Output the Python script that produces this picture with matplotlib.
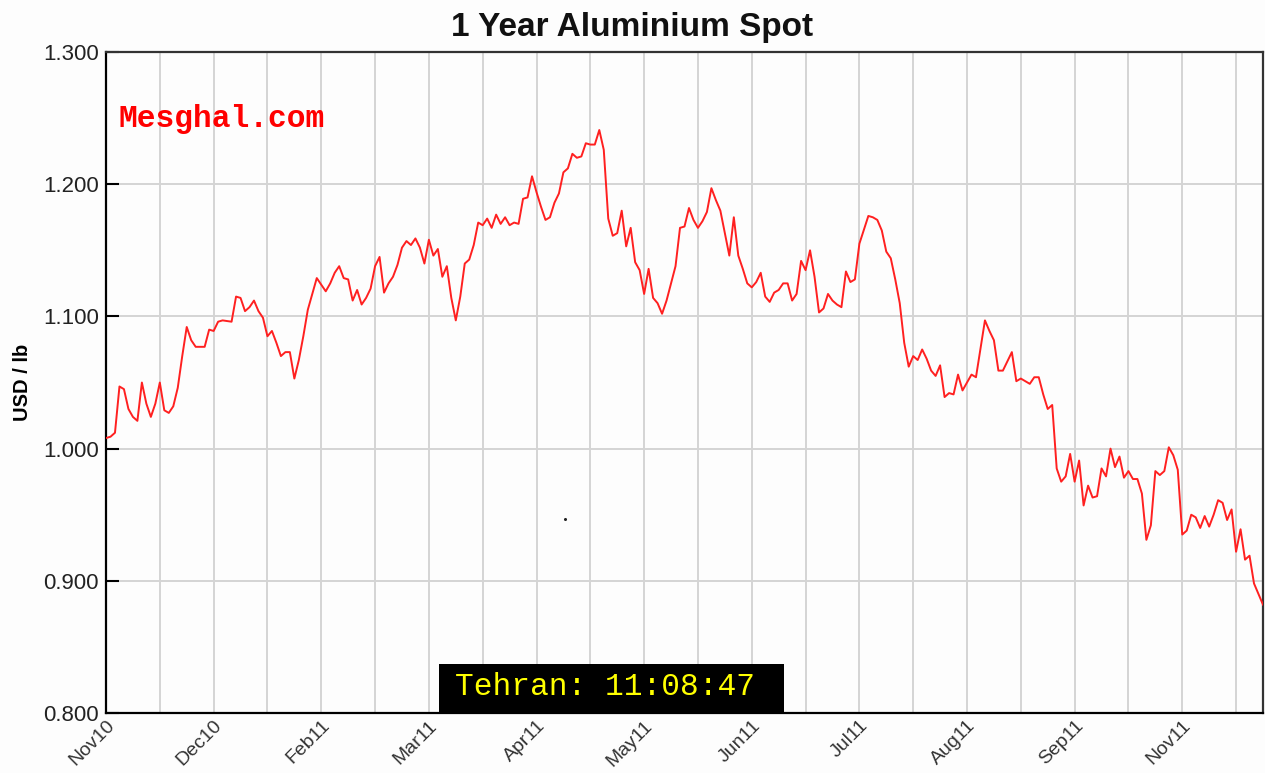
import matplotlib
matplotlib.use('Agg')
import matplotlib.pyplot as plt
from matplotlib.patches import Rectangle

# trading-day index and aluminium spot price (USD / lb)
day = [0, 1, 2, 3, 4, 5, 6, 7, 8, 9, 10, 11, 12, 13, 14, 15, 16, 17, 18, 19,
       20, 22, 23, 24, 25, 26, 28, 29, 30, 31, 32, 33, 34, 35, 36, 37, 38, 39,
       40, 41, 42, 43, 44, 45, 47, 48, 49, 50, 51, 52, 53, 54, 55, 56, 57, 58,
       59, 60, 61, 62, 63, 64, 65, 66, 67, 68, 69, 70, 71, 72, 73, 74, 75, 76,
       77, 78, 79, 80, 81, 82, 83, 84, 85, 86, 87, 88, 89, 90, 91, 92, 93, 94,
       95, 96, 97, 98, 99, 100, 101, 102, 103, 104, 105, 106, 107, 108, 109,
       110, 111, 112, 113, 114, 115, 116, 117, 118, 119, 120, 121, 122, 123,
       124, 125, 126, 127, 128, 129, 130, 131, 132, 133, 134, 135, 136, 137,
       138, 139, 140, 141, 142, 143, 144, 145, 146, 147, 148, 149, 150, 151,
       152, 153, 154, 155, 156, 157, 158, 159, 160, 161, 162, 163, 164, 165,
       166, 167, 168, 170, 171, 172, 173, 174, 175, 176, 177, 178, 179, 180,
       181, 182, 183, 184, 185, 186, 187, 188, 189, 190, 191, 192, 193, 194,
       196, 197, 198, 199, 200, 201, 202, 203, 204, 205, 206, 207, 208, 209,
       210, 211, 212, 213, 214, 215, 216, 217, 218, 219, 220, 221, 222, 223,
       224, 225, 226, 227, 228, 229, 230, 231, 232, 233, 234, 235, 236, 237,
       238, 239, 240, 241, 242, 243, 244, 245, 246, 247, 248, 249, 250, 251,
       252, 253, 254, 255, 256, 258]
price = [1.008, 1.009, 1.012, 1.047, 1.045, 1.030, 1.024, 1.021, 1.050, 1.034,
         1.024, 1.034, 1.050, 1.029, 1.027, 1.032, 1.046, 1.070, 1.092, 1.082,
         1.077, 1.077, 1.090, 1.089, 1.096, 1.097, 1.096, 1.115, 1.114, 1.104,
         1.107, 1.112, 1.104, 1.099, 1.085, 1.089, 1.080, 1.070, 1.073, 1.073,
         1.053, 1.067, 1.085, 1.105, 1.129, 1.124, 1.119, 1.125, 1.133, 1.138,
         1.129, 1.128, 1.112, 1.120, 1.109, 1.114, 1.121, 1.138, 1.145, 1.118,
         1.125, 1.130, 1.139, 1.152, 1.157, 1.154, 1.159, 1.152, 1.140, 1.158,
         1.146, 1.151, 1.130, 1.138, 1.114, 1.097, 1.115, 1.140, 1.143, 1.154,
         1.171, 1.169, 1.174, 1.167, 1.177, 1.170, 1.175, 1.169, 1.171, 1.170,
         1.189, 1.190, 1.206, 1.194, 1.183, 1.173, 1.175, 1.186, 1.193, 1.209,
         1.212, 1.223, 1.220, 1.221, 1.231, 1.230, 1.230, 1.241, 1.226, 1.174,
         1.161, 1.163, 1.180, 1.153, 1.167, 1.141, 1.135, 1.117, 1.136, 1.114,
         1.110, 1.102, 1.112, 1.125, 1.138, 1.167, 1.168, 1.182, 1.173, 1.167,
         1.172, 1.179, 1.197, 1.188, 1.180, 1.163, 1.146, 1.175, 1.146, 1.136,
         1.125, 1.122, 1.126, 1.133, 1.115, 1.111, 1.118, 1.120, 1.125, 1.125,
         1.112, 1.117, 1.142, 1.135, 1.150, 1.130, 1.103, 1.106, 1.117, 1.112,
         1.109, 1.107, 1.134, 1.126, 1.128, 1.155, 1.176, 1.175, 1.173, 1.165,
         1.149, 1.144, 1.128, 1.110, 1.080, 1.062, 1.070, 1.067, 1.075, 1.068,
         1.059, 1.055, 1.063, 1.039, 1.042, 1.041, 1.056, 1.044, 1.050, 1.056,
         1.054, 1.097, 1.089, 1.082, 1.059, 1.059, 1.066, 1.073, 1.051, 1.053,
         1.051, 1.049, 1.054, 1.054, 1.041, 1.030, 1.033, 0.985, 0.975, 0.979,
         0.996, 0.975, 0.991, 0.957, 0.972, 0.963, 0.964, 0.985, 0.979, 1.000,
         0.986, 0.994, 0.978, 0.983, 0.977, 0.977, 0.966, 0.931, 0.942, 0.983,
         0.980, 0.983, 1.001, 0.995, 0.984, 0.935, 0.938, 0.950, 0.948, 0.940,
         0.949, 0.941, 0.950, 0.961, 0.959, 0.946, 0.954, 0.922, 0.939, 0.916,
         0.919, 0.898, 0.882]

month_pos = [0, 24, 48, 72, 96, 120, 144, 168, 192, 216, 240]
month_labels = ['Nov10', 'Dec10', 'Feb11', 'Mar11', 'Apr11', 'May11',
                'Jun11', 'Jul11', 'Aug11', 'Sep11', 'Nov11']
y_ticks = [0.8, 0.9, 1.0, 1.1, 1.2, 1.3]

plt.rcParams['font.family'] = ['Liberation Sans', 'DejaVu Sans']

fig = plt.figure(figsize=(12.65, 7.73), dpi=100, facecolor='#fdfdfd')
ax = fig.add_axes([0.0838, 0.0776, 0.9146, 0.8551])
ax.set_facecolor('#fdfdfd')

ax.plot(day, price, color='#ff2020', lw=1.4, zorder=3)

ax.set_xlim(0, 258)
ax.set_ylim(0.8, 1.3)

# gridlines every half month label step
ax.set_xticks(list(range(0, 259, 12)), minor=True)
ax.set_xticks(month_pos)
ax.set_xticklabels(month_labels, rotation=45, ha='right', va='top',
                   rotation_mode='anchor', fontsize=14, color='#333333')
ax.set_yticks(y_ticks)
ax.set_yticklabels(['%.3f' % v for v in y_ticks], fontsize=16, color='#222222')
ax.grid(True, which='both', axis='x', color='#d4d4d4', lw=1.4, zorder=1)
ax.grid(True, which='major', axis='y', color='#d4d4d4', lw=1.4, zorder=1)
ax.tick_params(axis='x', which='both', length=0, pad=3)
ax.tick_params(axis='y', direction='in', length=9.5, width=1.5,
               color='black', pad=5)

for side in ['left', 'bottom']:
    ax.spines[side].set_color('black')
    ax.spines[side].set_linewidth(1.6)
for side in ['top', 'right']:
    ax.spines[side].set_color('#333333')
    ax.spines[side].set_linewidth(1.6)

ax.set_ylabel('USD / lb', fontsize=14.5, fontweight='bold', labelpad=8)
fig.text(0.5, 0.964, '1 Year Aluminium Spot', ha='center', va='center',
         fontsize=24, fontweight='bold', color='#111111')

ax.text(0.011, 0.8866, 'Mesghal.com', transform=ax.transAxes,
        fontsize=22.5, fontweight='bold', color='#ff0000',
        family='Liberation Mono', va='baseline', ha='left')

ax.add_patch(Rectangle((0.2878, 0.0), 0.2982, 0.0741, transform=ax.transAxes,
                       facecolor='black', edgecolor='none', zorder=5,
                       clip_on=False))
ax.text(0.3016, 0.0272, 'Tehran: 11:08:47', transform=ax.transAxes,
        fontsize=22.5, color='#ffff00', family='Liberation Mono',
        va='baseline', ha='left', zorder=6)
ax.plot([0.3967], [0.2935], 'o', color='#222222', ms=1.2,
        transform=ax.transAxes)

plt.savefig('out.png', dpi=100, facecolor=fig.get_facecolor())
